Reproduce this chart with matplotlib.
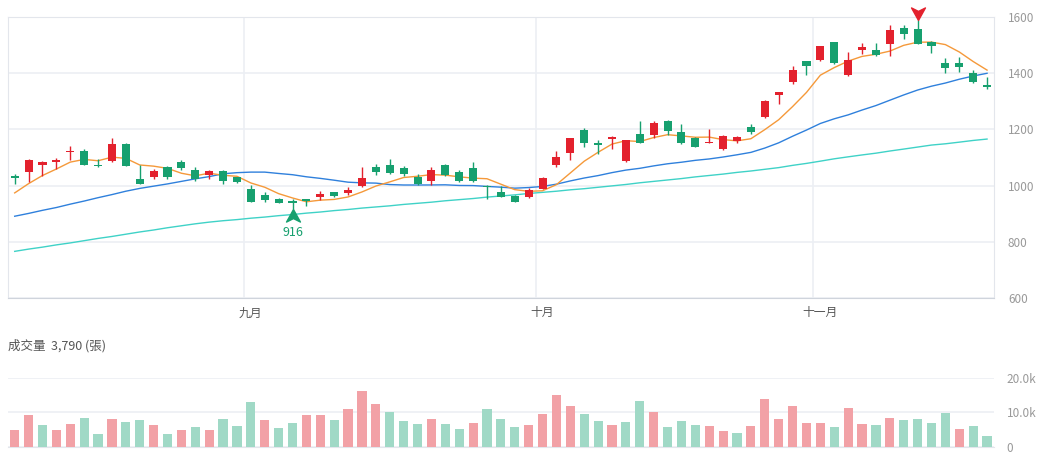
import numpy as np
import pandas as pd
import matplotlib
matplotlib.use('Agg')
import matplotlib.pyplot as plt
from matplotlib.path import Path
from matplotlib.transforms import offset_copy

# 日K資料
opens = [1033, 1047, 1072, 1085, 1119, 1122, 1075, 1086, 1148, 1024,
         1031, 1067, 1083, 1057, 1038, 1053, 1029, 988, 968, 953,
         946, 953, 959, 976, 972, 1000, 1065, 1074, 1063, 1032,
         1015, 1072, 1049, 1063, 1000, 976, 962, 960, 989, 1074,
         1116, 1198, 1153, 1166, 1086, 1183, 1180, 1231, 1191, 1171,
         1151, 1130, 1157, 1207, 1243, 1321, 1370, 1443, 1447, 1511,
         1392, 1482, 1481, 1503, 1561, 1557, 1510, 1437, 1437, 1402,
         1357]
highs = [1041, 1093, 1086, 1098, 1142, 1131, 1095, 1170, 1151, 1072,
         1059, 1071, 1092, 1066, 1057, 1055, 1031, 1001, 978, 955,
         953, 954, 981, 978, 994, 1066, 1078, 1095, 1071, 1043,
         1066, 1078, 1057, 1083, 1001, 998, 965, 990, 1032, 1122,
         1170, 1204, 1161, 1177, 1164, 1230, 1230, 1232, 1220, 1173,
         1201, 1179, 1177, 1220, 1304, 1334, 1425, 1444, 1497, 1512,
         1474, 1509, 1509, 1572, 1570, 1588, 1515, 1454, 1456, 1411,
         1385]
lows = [1007, 1012, 1035, 1059, 1092, 1072, 1066, 1084, 1068, 1005,
        1024, 1022, 1057, 1018, 1024, 1004, 1010, 940, 942, 937,
        916, 929, 950, 960, 968, 995, 1039, 1043, 1033, 1002,
        1002, 1033, 1013, 1013, 953, 960, 940, 955, 988, 1065,
        1091, 1136, 1112, 1130, 1085, 1152, 1168, 1181, 1148, 1137,
        1150, 1125, 1151, 1184, 1241, 1291, 1360, 1395, 1445, 1434,
        1390, 1468, 1462, 1460, 1521, 1503, 1472, 1402, 1405, 1366,
        1345]
closes = [1026, 1092, 1084, 1092, 1124, 1074, 1068, 1148, 1071, 1006,
          1053, 1029, 1061, 1025, 1053, 1015, 1012, 942, 949, 939,
          938, 944, 971, 962, 983, 1027, 1049, 1045, 1040, 1005,
          1057, 1039, 1015, 1017, 994, 960, 942, 985, 1027, 1103,
          1168, 1151, 1144, 1173, 1163, 1153, 1222, 1195, 1151, 1139,
          1156, 1177, 1173, 1189, 1301, 1332, 1411, 1425, 1496, 1436,
          1447, 1495, 1463, 1552, 1539, 1503, 1496, 1419, 1421, 1369,
          1350]
volumes = [4760, 9100, 6200, 4800, 6400, 8400, 3700, 7900, 7200, 7700,
           6300, 3500, 4800, 5800, 4800, 8100, 5900, 13000, 7600, 5300,
           6800, 9200, 9200, 7700, 10900, 16100, 12500, 10000, 7300, 6600,
           8100, 6500, 5200, 6700, 10800, 8100, 5700, 6200, 9500, 15100,
           11900, 9500, 7400, 6300, 7000, 13300, 10000, 5700, 7300, 6200,
           5900, 4600, 3900, 5900, 13700, 8000, 11700, 6900, 6700, 5800,
           11100, 6600, 6200, 8300, 7700, 8100, 6900, 9700, 5100, 5900,
           3000]

# 均線起始段 (前期資料不在圖內, 讀自原圖)
ma5_head = [974, 1007, 1036, 1059]
ma20_head = [891, 901, 912, 922, 934, 945, 957, 968, 980, 990,
             998, 1006, 1015, 1024, 1032, 1042, 1046, 1048, 1048]
ma60_head = [766, 774, 781, 789, 796, 804, 812, 819, 827, 835,
             842, 850, 857, 864, 870, 875, 879, 884, 888, 893,
             897, 902, 906, 911, 915, 920, 924, 928, 933, 937,
             941, 946, 950, 954, 959, 963, 967, 972, 976, 980,
             985, 989, 994, 999, 1004, 1010, 1015, 1020, 1025, 1031,
             1036, 1041, 1047, 1052, 1058, 1064, 1072, 1079, 1087]

month_labels = ['九月', '十月', '十一月']
month_first = [17, 38, 58]
volume_text = '成交量  3,790 (張)'

plt.rcParams['font.family'] = ['Noto Sans CJK TC', 'DejaVu Sans']

RED = '#e3212d'
GREEN = '#17a06f'
VRED = '#f2a1a6'
VGREEN = '#a0d9c6'
GRID = '#eceff4'
LABEL = '#999999'

n = len(closes)
x = np.arange(n)
o = np.array(opens, float)
c = np.array(closes, float)
h = np.array(highs, float)
l = np.array(lows, float)

cs = pd.Series(c)
ma5 = cs.rolling(5).mean().to_numpy()
ma5[:len(ma5_head)] = ma5_head
ma20 = cs.rolling(20).mean().to_numpy()
ma20[:len(ma20_head)] = ma20_head
ma60 = cs.rolling(60).mean().to_numpy()
ma60[:len(ma60_head)] = ma60_head

W, H = 1048, 454
fig = plt.figure(figsize=(W / 100, H / 100), dpi=100)
left, right = 7.75, 994
ax = fig.add_axes([left / W, 1 - 298 / H, (right - left) / W, (298 - 17) / H])
vax = fig.add_axes([left / W, 1 - 446.5 / H, (right - left) / W, (446.5 - 377.7) / H])

# 價格K線
ax.plot(x, ma60, color='#3fd2c7', lw=1.0, zorder=2)
ax.plot(x, ma20, color='#2f80dc', lw=1.0, zorder=2)
ax.plot(x, ma5, color='#f5993a', lw=1.0, zorder=2)

up = c >= o
colors = np.where(up, RED, GREEN)
ax.vlines(x, l, h, colors=colors, lw=1.0, zorder=3)
body = np.maximum(np.abs(c - o), 3)
ax.bar(x, body, bottom=np.minimum(o, c), width=0.58, color=colors, zorder=4)

ax.set_xlim(-0.5, n - 0.5)
ax.set_ylim(600, 1600)
ax.set_yticks(range(600, 1601, 200))
ax.yaxis.tick_right()
ax.tick_params(axis='y', length=0, pad=10, labelsize=8.5, labelcolor=LABEL)
ax.set_xticks(month_first)
ax.set_xticklabels(month_labels)
ax.tick_params(axis='x', length=0, pad=6, labelsize=8.5, labelcolor='#555555')
ax.grid(axis='y', color=GRID, lw=1.2, zorder=0)
for m in month_first:
    ax.axvline(m - 0.5, color=GRID, lw=1.2, zorder=0)
for side in ['left', 'top', 'right']:
    ax.spines[side].set_color('#e3e6ec')
ax.spines['bottom'].set_color('#cfd4dc')

# 最高 / 最低 標記
arrow = Path([(0, 1), (1, -0.8), (0, -0.3), (-1, -0.8), (0, 1)],
             [Path.MOVETO, Path.LINETO, Path.LINETO, Path.LINETO, Path.CLOSEPOLY])
arrow_dn = Path(arrow.vertices * [1, -1], arrow.codes)
imin = int(np.argmin(l))
imax = int(np.argmax(h))
ax.plot(imin, l[imin], marker=arrow, ms=10, color=GREEN, clip_on=False, zorder=5,
        transform=offset_copy(ax.transData, fig=fig, y=-7, units='dots'))
ax.text(imin, l[imin], f'{l[imin]:.0f}', color=GREEN, fontsize=9, ha='center', va='center',
        transform=offset_copy(ax.transData, fig=fig, y=-23, units='dots'))
ax.plot(imax, h[imax], marker=arrow_dn, ms=10, color=RED, clip_on=False, zorder=5,
        transform=offset_copy(ax.transData, fig=fig, y=7, units='dots'))

# 成交量
vcolors = [VRED] + [VRED if c[i] >= c[i - 1] else VGREEN for i in range(1, n)]
vax.bar(x, volumes, width=0.66, color=vcolors, zorder=3)
vax.set_xlim(-0.5, n - 0.5)
vax.set_ylim(0, 20000)
vax.set_yticks([0, 10000, 20000])
vax.set_yticklabels(['0', '10.0k', '20.0k'])
vax.yaxis.tick_right()
vax.tick_params(axis='y', length=0, pad=9, labelsize=8.5, labelcolor=LABEL)
vax.set_xticks([])
vax.grid(axis='y', color=GRID, lw=1.2, zorder=0)
for side in ['left', 'top', 'right']:
    vax.spines[side].set_visible(False)
vax.spines['bottom'].set_color('#e3e6ec')

fig.text(8 / W, 1 - 346 / H, volume_text, fontsize=9, color='#555555', va='center')

fig.savefig('out.png', dpi=100)
